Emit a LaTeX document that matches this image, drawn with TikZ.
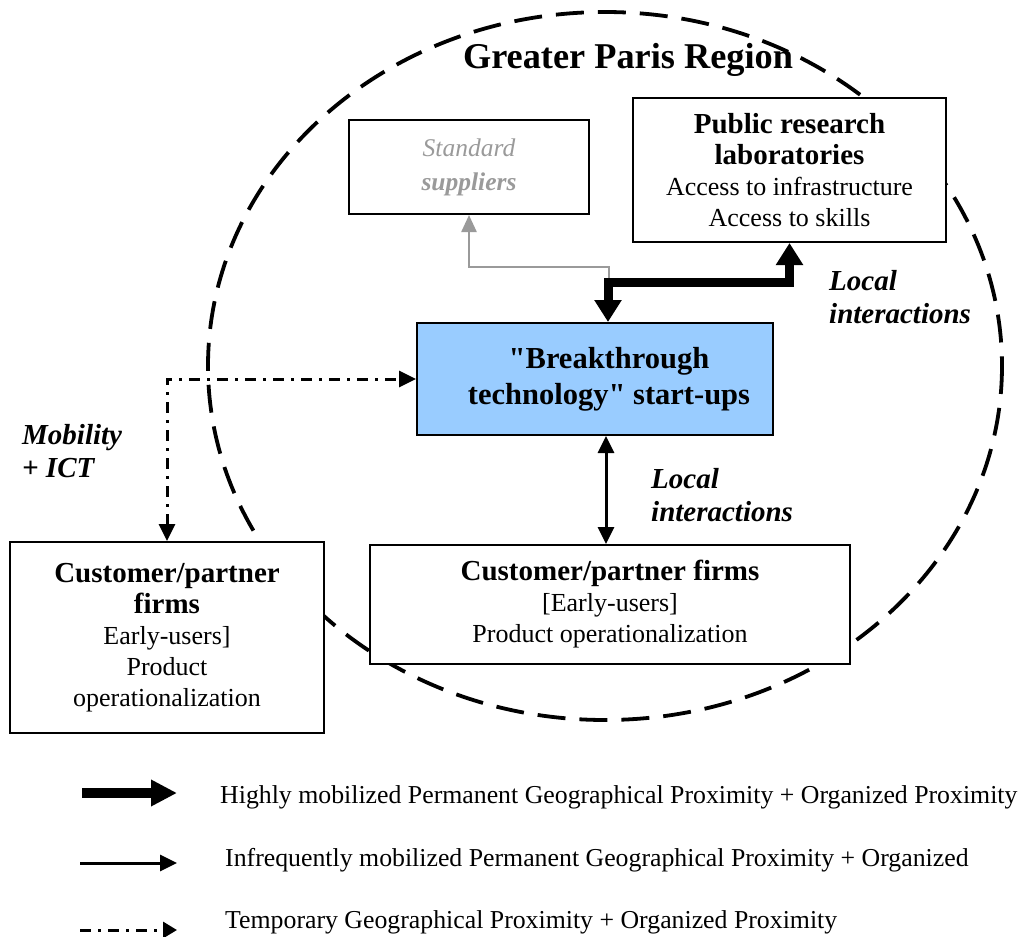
\documentclass[tikz,border=0pt]{standalone}
\usepackage{fontspec}
\setmainfont[Ligatures=TeXOff]{Liberation Serif}
\usetikzlibrary{arrows.meta}
\definecolor{btblue}{HTML}{99CCFF}
\definecolor{supgray}{HTML}{9A9A9A}
\newcommand{\bhd}{\fontsize{29}{31}\selectfont\bfseries}
\tikzset{
  box/.style={draw=black, line width=2pt, fill=white, inner sep=0pt, align=center, font=\fontsize{26}{31}\selectfont},
  thickconn/.style={line width=9pt, {Triangle[width=26pt,length=22pt]}-{Triangle[width=26pt,length=22pt]}},
  thinconn/.style={line width=3pt, {Triangle[width=16pt,length=17pt]}-{Triangle[width=16pt,length=17pt]}},
  grayconn/.style={line width=2.4pt, draw=supgray, -{Triangle[width=15pt,length=17pt]}},
  dashdotconn/.style={line width=3pt, dash pattern=on 11pt off 7pt on 3pt off 7pt, {Triangle[width=16pt,length=17pt]}-{Triangle[width=16pt,length=17pt]}},
  lbl/.style={font=\fontsize{29}{33}\selectfont\bfseries\itshape, align=left, inner sep=0pt},
  legtext/.style={font=\fontsize{25.8}{30}\selectfont, anchor=west, inner sep=0pt},
  region/.style={line width=3.8pt, dash pattern=on 28pt off 14pt}
}
\begin{document}
\begin{tikzpicture}[x=1pt,y=-1pt]
\useasboundingbox (0,0) rectangle (1021,937);
% region ellipse
\draw[region] (605,366) ellipse [x radius=397, y radius=354];
\node[font=\fontsize{36.3}{40}\selectfont\bfseries, inner sep=0pt] (title) at (628,60) {Greater Paris Region};
% boxes
\node[box, minimum width=240, minimum height=94, text=supgray, font=\fontsize{25.5}{34}\selectfont] (sup) at (469,167)
  {\itshape Standard\\\bfseries\itshape suppliers};
\node[box, minimum width=313, minimum height=144] (labs) at (789.5,170)
  {{\bhd Public research}\\{\bhd laboratories}\\Access to infrastructure\\Access to skills};
\node[box, minimum width=356, minimum height=112, fill=btblue, font=\fontsize{30.5}{36}\selectfont\bfseries] (bt) at (595,379)
  {\hspace*{28pt}"Breakthrough\\\hspace*{28pt}technology" start-ups};
\node[box, minimum width=314, minimum height=191] (left) at (167,637.5)
  {{\bhd Customer/partner}\\{\bhd firms}\\Early-users]\\Product\\operationalization};
\node[box, minimum width=480, minimum height=119] (bot) at (610,604.5)
  {{\bhd Customer/partner firms}\\{}[Early-users]\\Product operationalization};
% connectors
\draw[grayconn] ([xshift=14pt]bt.north) ++(0,-40) -- ++(0,-15) -| (sup.south);
\draw[thickconn] ([xshift=13pt]bt.north) -- ++(0,-40) -| (labs.south);
\draw[thinconn] ([xshift=11pt]bt.south) -- ([xshift=11pt]bt.south |- bot.north);
\draw[dashdotconn] (left.north) |- (bt.west);
% labels
\node[lbl, anchor=west] (li1) at (829,297) {Local\\interactions};
\node[lbl, anchor=west] (li2) at (651,495) {Local\\interactions};
\node[lbl, anchor=west] (mob) at (22,451) {Mobility\\+ ICT};
% legend
\coordinate (l1a) at (82,793); \coordinate (l1b) at (177,793);
\coordinate (l2a) at (80,863); \coordinate (l2b) at (177,863);
\coordinate (l3a) at (80,930); \coordinate (l3b) at (177,930);
\draw[line width=9.5pt, -{Triangle[width=25pt,length=26pt]}] (l1a) -- (l1b);
\draw[line width=3pt, -{Triangle[width=16pt,length=17pt]}] (l2a) -- (l2b);
\draw[line width=3pt, dash pattern=on 11pt off 7pt on 3pt off 7pt, -{Triangle[width=16pt,length=14pt]}] (l3a) -- (l3b);
\node[legtext] (t1) at (220,797) {Highly mobilized Permanent Geographical Proximity + Organized Proximity};
\node[legtext] (t2) at (225,860) {Infrequently mobilized Permanent Geographical Proximity + Organized};
\node[legtext] (t3) at (225,922) {Temporary Geographical Proximity + Organized Proximity};
\end{tikzpicture}
\end{document}
